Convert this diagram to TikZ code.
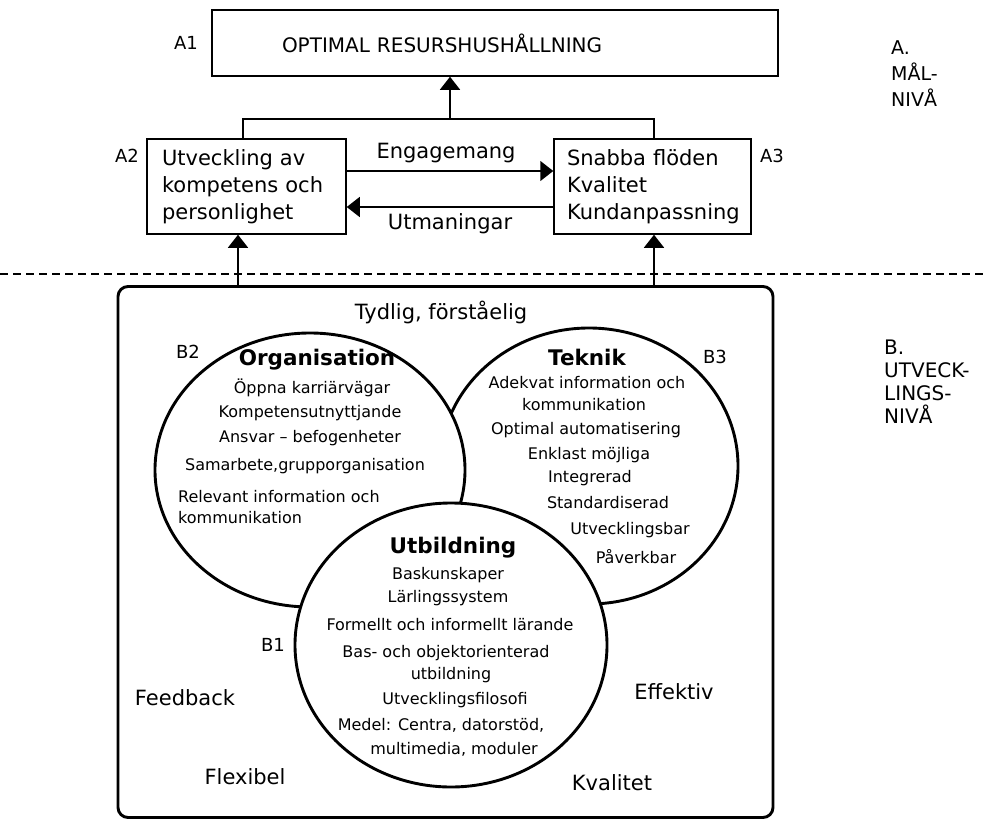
\documentclass[tikz,border=0pt]{standalone}
\usepackage{fontspec}
\setmainfont{DejaVu Sans}
\usetikzlibrary{arrows.meta,shapes.geometric}

\begin{document}
\begin{tikzpicture}[x=1pt,y=-1pt,
  lvlbox/.style={draw, line width=1.5pt, align=left, font={\fontsize{21}{27}\selectfont}},
  ring/.style={ellipse, draw, fill=white, line width=2.9pt, inner sep=0pt},
  head/.style={inner sep=0pt, font={\bfseries\fontsize{21.5}{24}\selectfont}},
  item/.style={inner sep=0pt, font={\fontsize{16}{20}\selectfont}},
  tag/.style={inner sep=0pt, font={\fontsize{18}{24}\selectfont}},
  word/.style={inner sep=0pt, font={\fontsize{21}{26}\selectfont}},
  arr/.style={-{Triangle[width=20pt,length=13pt]}, line width=1.5pt}]
\useasboundingbox (0,0) rectangle (985,822);

% level A
\node[lvlbox, text width=426pt, inner xsep=70pt, minimum height=66pt] (a1) at (495,43)
  {\fontsize{20}{24}\selectfont OPTIMAL RESURSHUSHÅLLNING};
\node[lvlbox, text width=169pt, inner xsep=15pt, minimum height=95pt] (a2) at (246.5,186.5)
  {Utveckling av\\kompetens och\\personlighet};
\node[lvlbox, text width=171pt, inner xsep=13pt, minimum height=95pt] (a3) at (652.5,186.5)
  {Snabba flöden\\Kvalitet\\Kundanpassning};
\node[tag] (a1tag) at (186,43) {A1};
\node[tag] (a2tag) at (127,156) {A2};
\node[tag] (a3tag) at (772,156) {A3};
\node[tag, anchor=north west, align=left, font={\fontsize{19}{26}\selectfont}] (alvl) at (891,40) {A.\\MÅL-\\NIVÅ};

\coordinate (join) at (450,119);
\draw[line width=1.5pt] ([xshift=-3.5pt]a2.north) |- (join) -| ([xshift=1.5pt]a3.north);
\draw[arr] (join) -- (join |- a1.south);
\draw[arr] ([yshift=15.5pt]a2.east) -- node[word, above=7pt, xshift=-4pt] (eng) {Engagemang} ([yshift=15.5pt]a3.west);
\draw[arr] ([yshift=-20.5pt]a3.west) -- node[word, below=6pt] (utm) {Utmaningar} ([yshift=-20.5pt]a2.east);

% level B
\draw[dash pattern=on 8pt off 5pt, line width=1.2pt] (0,274) -- (985,274);
\node[draw, line width=2.9pt, rounded corners=10pt, minimum width=655pt, minimum height=531pt] (big) at (445.5,552) {};
\draw[arr] ([xshift=-8.5pt]a2.south |- big.north) -- ([xshift=-8.5pt]a2.south);
\draw[arr] ([xshift=1.5pt]a3.south |- big.north) -- ([xshift=1.5pt]a3.south);
\node[tag, anchor=north west, align=left, font={\fontsize{20}{23}\selectfont}] (blvl) at (884,340) {B.\\UTVECK-\\LINGS-\\NIVÅ};

\node[ring, minimum width=298pt, minimum height=276pt] (tek) at (589,466) {};
\node[ring, minimum width=310pt, minimum height=274pt] (org) at (310,470) {};
\node[ring, minimum width=312pt, minimum height=284pt] (utb) at (451,645) {};

\node[word] (tydlig) at (441,312) {Tydlig, förståelig};
\node[tag] (b2) at (188,352) {B2};
\node[tag] (b3) at (715,357) {B3};
\node[tag] (b1) at (273,645) {B1};

% circle texts
\node[head] (orghead) at (317,360) {Organisation};
\foreach \y/\x/\txt [count=\i] in {388/312/Öppna karriärvägar, 413/310/Kompetensutnyttjande,
    438/310/Ansvar – befogenheter, {466/305/Samarbete,grupporganisation}}
  \node[item] (org\i) at (\x,\y) {\txt};
\node[item, anchor=west] (org5) at (178,497) {Relevant information och};
\node[item, anchor=west] (org6) at (178,518) {kommunikation};

\node[head] (tekhead) at (587,357) {Teknik};
\foreach \y/\x/\txt [count=\i] in {383/587/Adekvat information och, 405/584/kommunikation,
    430/586/Optimal automatisering, 455/589/Enklast möjliga, 478/590/Integrerad,
    503/608/Standardiserad, 530/630/Utvecklingsbar, 557/636/Påverkbar}
  \node[item] (tek\i) at (\x,\y) {\txt};

\node[head] (utbhead) at (453,548) {Utbildning};
\foreach \y/\x/\txt [count=\i] in {575/448/Baskunskaper, 598/448/Lärlingssystem,
    625/450/Formellt och informellt lärande, 653/446/Bas- och objektorienterad,
    675/451/utbildning, 700/455/Utvecklingsfilosofi,
    {725/441/Medel: Centra, datorstöd,}, {749/454/multimedia, moduler}}
  \node[item] (utb\i) at (\x,\y) {\txt};

% around the circles
\node[word] (feedback) at (185,698) {Feedback};
\node[word] (flexibel) at (245,777) {Flexibel};
\node[word] (effektiv) at (674,692) {Effektiv};
\node[word] (kvalitet) at (612,783) {Kvalitet};
\end{tikzpicture}
\end{document}
